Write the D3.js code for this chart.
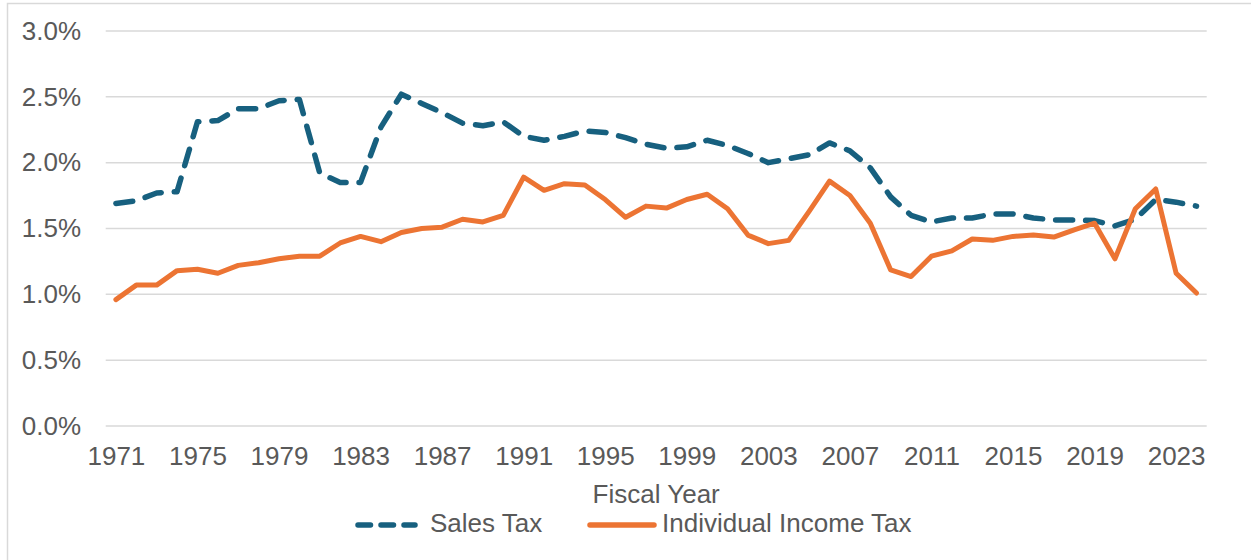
<!DOCTYPE html>
<html>
<head>
<meta charset="utf-8">
<script src="https://cdn.jsdelivr.net/npm/d3@7"></script>
<style>
  html, body { margin: 0; padding: 0; background: #ffffff; }
  svg { display: block; }
  text { font-family: "Liberation Sans", Arial, sans-serif; fill: #595959; }
</style>
</head>
<body>
<svg id="chart" width="1251" height="560"></svg>
<script>
// Fiscal years 1971–2024
const years = d3.range(1971, 2025);

// Tax revenue as a share of personal income (%)
const salesTax = [
  1.69, 1.71, 1.77, 1.78, 2.31, 2.32, 2.41, 2.41, 2.47, 2.48,
  1.92, 1.85, 1.85, 2.27, 2.52, 2.45, 2.38, 2.30, 2.28, 2.31,
  2.20, 2.17, 2.20, 2.24, 2.23, 2.19, 2.14, 2.11, 2.12, 2.17,
  2.13, 2.07, 2.00, 2.03, 2.06, 2.15, 2.09, 1.96, 1.74, 1.60,
  1.55, 1.58, 1.58, 1.61, 1.61, 1.58, 1.565, 1.565, 1.56, 1.52,
  1.57, 1.72, 1.70, 1.67
];
const incomeTax = [
  0.96, 1.07, 1.07, 1.18, 1.19, 1.16, 1.22, 1.24, 1.27, 1.29,
  1.29, 1.39, 1.44, 1.40, 1.47, 1.50, 1.51, 1.57, 1.55, 1.60,
  1.89, 1.79, 1.84, 1.83, 1.72, 1.585, 1.67, 1.655, 1.72, 1.76,
  1.65, 1.45, 1.385, 1.41, 1.63, 1.86, 1.75, 1.54, 1.185, 1.135,
  1.29, 1.33, 1.42, 1.41, 1.44, 1.45, 1.435, 1.49, 1.54, 1.27,
  1.65, 1.80, 1.16, 1.01
];

const yTicks = [0, 0.5, 1.0, 1.5, 2.0, 2.5, 3.0];
const xTickYears = d3.range(1971, 2025, 4);

const seriesNames = ["Sales Tax", "Individual Income Tax"];
const seriesColors = ["#17607f", "#ec7433"];

const fontSize = 26;
const svg = d3.select("#chart");

// outer chart frame
svg.append("rect")
  .attr("x", 7.5).attr("y", 3.5)
  .attr("width", 1300).attr("height", 600)
  .attr("fill", "none").attr("stroke", "#d9d9d9").attr("stroke-width", 1.5);

const plot = { left: 105.7, right: 1206.7, top: 31, bottom: 426 };

const x = d3.scalePoint()
  .domain(years)
  .range([plot.left, plot.right])
  .padding(0.5);

const y = d3.scaleLinear()
  .domain([0, 3])
  .range([plot.bottom, plot.top]);

// horizontal gridlines
svg.append("g")
  .selectAll("line")
  .data(yTicks)
  .join("line")
  .attr("x1", plot.left).attr("x2", plot.right)
  .attr("y1", d => y(d)).attr("y2", d => y(d))
  .attr("stroke", "#d9d9d9").attr("stroke-width", 1.5);

// y axis labels
const yAxis = d3.axisLeft(y)
  .tickValues(yTicks)
  .tickSize(0)
  .tickPadding(0)
  .tickFormat(d => d.toFixed(1) + "%");
const gy = svg.append("g")
  .attr("transform", `translate(81,0)`)
  .call(yAxis);
gy.select(".domain").remove();
gy.selectAll("text")
  .attr("font-family", "Liberation Sans, Arial, sans-serif")
  .attr("font-size", fontSize)
  .attr("fill", "#595959");

// x axis labels
const xAxis = d3.axisBottom(x)
  .tickValues(xTickYears)
  .tickSize(0)
  .tickPadding(0);
const gx = svg.append("g")
  .attr("transform", `translate(0,456)`)
  .call(xAxis);
gx.select(".domain").remove();
gx.selectAll("text")
  .attr("y", 0)
  .attr("dy", "0.35em")
  .attr("font-family", "Liberation Sans, Arial, sans-serif")
  .attr("font-size", fontSize)
  .attr("fill", "#595959");

// axis title
svg.append("text")
  .attr("x", (plot.left + plot.right) / 2)
  .attr("y", 494)
  .attr("dy", "0.35em")
  .attr("text-anchor", "middle")
  .attr("font-size", fontSize)
  .text("Fiscal Year");

const line = d3.line()
  .x((d, i) => x(years[i]))
  .y(d => y(d));

// Sales Tax: dashed
svg.append("path")
  .datum(salesTax)
  .attr("d", line)
  .attr("fill", "none")
  .attr("stroke", seriesColors[0])
  .attr("stroke-width", 5.5)
  .attr("stroke-linecap", "round")
  .attr("stroke-linejoin", "round")
  .attr("stroke-dasharray", "17,13");

// Individual Income Tax: solid
svg.append("path")
  .datum(incomeTax)
  .attr("d", line)
  .attr("fill", "none")
  .attr("stroke", seriesColors[1])
  .attr("stroke-width", 5)
  .attr("stroke-linecap", "round")
  .attr("stroke-linejoin", "round");

// legend
const legendY = 523;
const leg = svg.append("g");
leg.append("line")
  .attr("x1", 358).attr("x2", 415)
  .attr("y1", legendY + 2).attr("y2", legendY + 2)
  .attr("stroke", seriesColors[0]).attr("stroke-width", 5.5)
  .attr("stroke-linecap", "round")
  .attr("stroke-dasharray", "12.5,10.5");
leg.append("text")
  .attr("x", 430).attr("y", legendY).attr("dy", "0.35em")
  .attr("font-size", fontSize)
  .text(seriesNames[0]);
leg.append("line")
  .attr("x1", 590).attr("x2", 654)
  .attr("y1", legendY + 2).attr("y2", legendY + 2)
  .attr("stroke", seriesColors[1]).attr("stroke-width", 5.5)
  .attr("stroke-linecap", "round");
leg.append("text")
  .attr("x", 662).attr("y", legendY).attr("dy", "0.35em")
  .attr("font-size", fontSize)
  .text(seriesNames[1]);
</script>
</body>
</html>
